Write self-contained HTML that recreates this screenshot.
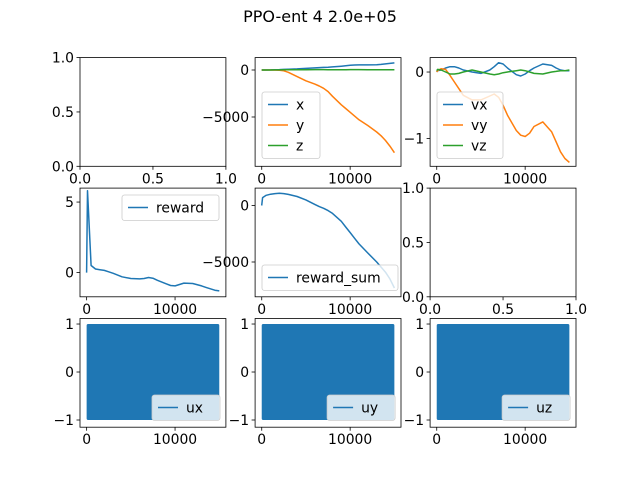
<!DOCTYPE html>
<html><head><meta charset="utf-8">
<style>
body{margin:0;background:#fff;}
svg{display:block;font-family:"DejaVu Sans","Liberation Sans",sans-serif;}
</style></head>
<body>
<svg id="fig" width="640" height="480" viewBox="0 0 640 480" xmlns="http://www.w3.org/2000/svg">
<rect width="640" height="480" fill="#fff"/>
<text x="320" y="22" text-anchor="middle" font-size="16">PPO-ent 4 2.0e+05</text>
</svg>
<script>
const steps = [0,100,500,1000,1500,2000,2500,3000,4000,5000,6000,6500,7000,7500,8000,9000,9500,10000,10500,11000,12000,13000,13500,14000,14500,15000];
const posX = [0,0,5,15,30,45,60,80,120,170,220,250,280,300,330,400,450,500,530,540,540,560,600,650,700,750];
const posY = [0,0,0,0,-10,-30,-80,-250,-700,-1150,-1500,-1700,-1950,-2300,-2800,-3700,-4100,-4500,-4900,-5300,-5900,-6600,-7000,-7500,-8100,-8800];
const posZ = [0,0,0,5,10,15,20,25,30,35,40,45,40,35,30,30,35,40,40,40,35,30,30,30,30,30];
const velX = [0,0.02,0.03,0.06,0.08,0.08,0.06,0.03,0,-0.02,0.03,0.08,0.14,0.12,0.06,-0.04,-0.06,-0.03,0.02,0.06,0.12,0.1,0.06,0.03,0.02,0.02];
const velY = [0,0.02,0.05,0.04,-0.05,-0.15,-0.25,-0.35,-0.42,-0.42,-0.36,-0.33,-0.38,-0.5,-0.65,-0.88,-0.95,-0.97,-0.92,-0.82,-0.75,-0.9,-1.05,-1.2,-1.3,-1.36];
const velZ = [0.02,0.04,0.03,0,-0.03,-0.03,-0.02,0,0.03,0,-0.03,-0.04,-0.03,-0.01,0,0.02,0.03,0.02,0,-0.02,-0.03,0,0.01,0.02,0.02,0.03];
const reward = [0,5.8,0.5,0.25,0.2,0.15,0.05,-0.05,-0.3,-0.42,-0.45,-0.42,-0.35,-0.4,-0.55,-0.8,-0.92,-0.95,-0.85,-0.75,-0.78,-0.95,-1.05,-1.15,-1.25,-1.3];
const rewardSum = [0,700,900,1000,1050,1080,1050,980,800,500,100,-100,-250,-450,-700,-1400,-1900,-2400,-2900,-3400,-4200,-5000,-5450,-5900,-6500,-7300];

const NS="http://www.w3.org/2000/svg";
const fig=document.getElementById('fig');
function el(tag,attrs,parent){const e=document.createElementNS(NS,tag);for(const k in attrs)e.setAttribute(k,attrs[k]);(parent||fig).appendChild(e);return e;}
const colX=[80,255.1,430.1], W=145.9, rowY=[57.6,188.1,318.5], H=108.7;
const C=['#1f77b4','#ff7f0e','#2ca02c'];
const FS=13.9;

function axes(name,col,row,xlim,ylim,xt,yt,fmtx,fmty){
  const x0=colX[col],y0=rowY[row];
  const g=el('g',{});
  
  
  const sx=v=>x0+(v-xlim[0])/(xlim[1]-xlim[0])*W;
  const sy=v=>y0+H-(v-ylim[0])/(ylim[1]-ylim[0])*H;
  xt.forEach(t=>{const p=sx(t);el('line',{x1:p,x2:p,y1:y0+H,y2:y0+H+3.5,stroke:'#000','stroke-width':0.8},g);
    const tx=el('text',{x:p,y:y0+H+17,'text-anchor':'middle','font-size':FS},g);tx.textContent=fmtx(t);
    });
  yt.forEach(t=>{const p=sy(t);el('line',{x1:x0-3.5,x2:x0,y1:p,y2:p,stroke:'#000','stroke-width':0.8},g);
    const tx=el('text',{x:x0-6,y:p+5,'text-anchor':'end','font-size':FS},g);tx.textContent=fmty(t);
    });
  return {g,sx,sy,x0,y0};
}
function frame(a){const r=el('rect',{x:a.x0,y:a.y0,width:W,height:H,fill:'none',stroke:'#000','stroke-width':0.8},a.g);
  }
function line(a,xs,ys,c,name){const d=xs.map((v,i)=>(i?'L':'M')+a.sx(v).toFixed(1)+' '+a.sy(ys[i]).toFixed(1)).join('');
  const p=el('path',{d,fill:'none',stroke:c,'stroke-width':1.5,'stroke-linejoin':'round'},a.g);
  }
function legend(a,x,y,w,items){
  const lg=el('g',{},a.g);
  
  const h=items.length*20.5+5;
  el('rect',{x,y,width:w,height:h,rx:2.5,fill:'rgba(255,255,255,0.8)',stroke:'#ccc','stroke-width':0.8},lg);
  items.forEach((it,i)=>{const yy=y+12.5+i*20.5;
    el('line',{x1:x+6,x2:x+26,y1:yy,y2:yy,stroke:it[1],'stroke-width':1.5},lg);
    const t=el('text',{x:x+34,y:yy+5,'font-size':FS},lg);t.textContent=it[0];
    });
}
const xl=[-750,15750];
const f0=v=>String(v).replace('-','\u2212');
const f1=v=>v.toFixed(1);

let a=axes('empty-axes-top-left',0,0,[0,1],[0,1],[0,0.5,1],[0,0.5,1],f1,f1);frame(a);
a=axes('position-axes',1,0,xl,[-10245,1319],[0,10000],[0,-5000],f0,f0);
line(a,steps,posX,C[0],'series-x');line(a,steps,posY,C[1],'series-y');line(a,steps,posZ,C[2],'series-z');
frame(a);legend(a,262,92,58,[['x',C[0]],['y',C[1]],['z',C[2]]]);
a=axes('velocity-axes',2,0,xl,[-1.418,0.217],[0,10000],[0,-1],f0,f0);
line(a,steps,velX,C[0],'series-vx');line(a,steps,velY,C[1],'series-vy');line(a,steps,velZ,C[2],'series-vz');
frame(a);legend(a,437,92,66,[['vx',C[0]],['vy',C[1]],['vz',C[2]]]);
a=axes('reward-axes',0,1,xl,[-1.72,5.99],[0,10000],[5,0],f0,f0);
line(a,steps,reward,C[0],'series-reward');frame(a);legend(a,122,195,97,[['reward',C[0]]]);
a=axes('reward-sum-axes',1,1,xl,[-8080,1540],[0,10000],[0,-5000],f0,f0);
line(a,steps,rewardSum,C[0],'series-reward-sum');frame(a);legend(a,262,265,136,[['reward_sum',C[0]]]);
a=axes('empty-axes-middle-right',2,1,[0,1],[0,1],[0,0.5,1],[0,0.5,1],f1,f1);frame(a);
const uNames=['ux','uy','uz'];
const uRange=[-1,1];
const uSpan=[0,15000];
uNames.forEach((n,i)=>{
  const ax=axes('control-axes-'+n,i,2,xl,[-1.15,1.115],[0,10000],[1,0,-1],f0,f0);
  const r=el('rect',{x:ax.sx(uSpan[0]),y:ax.sy(uRange[1]),width:ax.sx(uSpan[1])-ax.sx(uSpan[0]),height:ax.sy(uRange[0])-ax.sy(uRange[1]),fill:C[0],rx:1.5},ax.g);
  
  
  frame(ax);
  legend(ax,colX[i]+72,395,68,[[n,C[0]]]);
});
</script>
</body></html>
